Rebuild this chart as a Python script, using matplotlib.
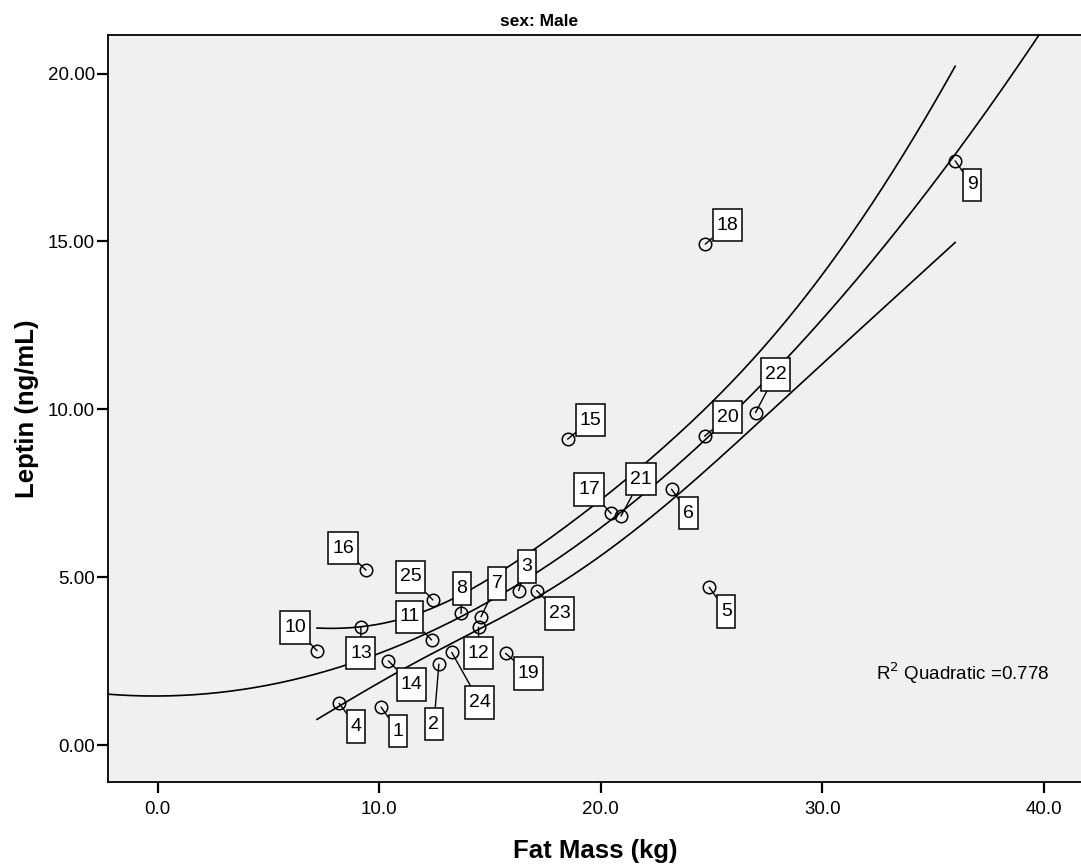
import numpy as np
import matplotlib
matplotlib.use("Agg")
import matplotlib.pyplot as plt
from matplotlib.path import Path

plt.rcParams['font.family'] = ['Liberation Sans', 'DejaVu Sans']

# case number, fat mass (kg), leptin (ng/mL)
case_id = [1, 2, 3, 4, 5, 6, 7, 8, 9, 10, 11, 12, 13,
           14, 15, 16, 17, 18, 19, 20, 21, 22, 23, 24, 25]
fat_mass = [10.08, 12.69, 16.29, 8.19, 24.89, 23.19, 14.59, 13.69, 35.99, 7.19, 12.36, 14.48, 9.17,
            10.41, 18.50, 9.40, 20.46, 24.71, 15.70, 24.68, 20.91, 26.98, 17.10, 13.27, 12.42]
leptin = [1.13, 2.41, 4.60, 1.24, 4.70, 7.62, 3.82, 3.92, 17.40, 2.81, 3.13, 3.51, 3.51,
          2.51, 9.11, 5.21, 6.90, 14.92, 2.73, 9.20, 6.82, 9.90, 4.60, 2.76, 4.32]
# where each case label sits relative to its point (pixels)
label_dx = [17, -5, 8, 17, 17, 17, 16, 1, 17, -22, -22, 0, 0,
            23, 23, -23, -22, 22, 23, 23, 20, 20, 23, 28, -22]
label_dy = [-24, -60, 24, -23, -24, -24, 33, 25, -24, 23, 23, -26, -26,
            -24, 19, 22, 24, 19, -20, 19, 37, 38, -23, -50, 23]

r2_text = "R$^2$ Quadratic =0.778"
band_t = 1.45  # multiplier on the standard error of the fitted mean

x = np.array(fat_mass)
y = np.array(leptin)

# quadratic fit and band around the fitted mean
coef = np.polyfit(x, y, 2)
X = np.vstack([np.ones_like(x), x, x ** 2]).T
resid = y - X @ coef[::-1]
s2 = resid @ resid / (len(x) - 3)
XtX_inv = np.linalg.inv(X.T @ X)

xx_full = np.linspace(-2.3, 42, 400)
yy_full = np.polyval(coef, xx_full)
xx = np.linspace(x.min(), x.max(), 300)
Xg = np.vstack([np.ones_like(xx), xx, xx ** 2]).T
se = np.sqrt(np.einsum('ij,jk,ik->i', Xg, XtX_inv, Xg) * s2)
yy = np.polyval(coef, xx)


def case_box(x0, y0, width, height, mutation_size):
    # plain rectangle, taller than it is wide around short numbers
    padx = 0.19 * mutation_size
    pady = 0.40 * mutation_size
    x0, y0 = x0 - padx, y0 - pady
    x1, y1 = x0 + width + 2 * padx, y0 + height + 2 * pady
    return Path([(x0, y0), (x1, y0), (x1, y1), (x0, y1), (x0, y0)], closed=True)


fig = plt.figure(figsize=(10.81, 8.68), dpi=100)
ax = fig.add_axes([108 / 1081, 86 / 868, 975 / 1081, 747 / 868])
ax.set_facecolor('#f0f0f0')

ax.plot(xx_full, yy_full, color='black', lw=1.2)
ax.plot(xx, yy + band_t * se, color='black', lw=1.2)
ax.plot(xx, yy - band_t * se, color='black', lw=1.2)

ax.plot(x, y, 'o', ms=9, mfc='none', mec='black', mew=1.1, zorder=4)

for cid, px, py, dx, dy in zip(case_id, fat_mass, leptin, label_dx, label_dy):
    ax.annotate(str(cid), xy=(px, py), xytext=(dx, dy), textcoords='offset pixels',
                ha='center', va='center', fontsize=14,
                bbox=dict(boxstyle=case_box, fc='white', ec='black', lw=1.1),
                arrowprops=dict(arrowstyle='-', color='black', lw=1.0,
                                shrinkA=0, shrinkB=0),
                zorder=5)

fig.text(876 / 1081, 1 - 673 / 868, r2_text, fontsize=13.5, va='center', ha='left')

ax.set_xlim(-2.243, 41.76)
ax.set_ylim(-1.102, 21.15)
ax.set_xticks([0, 10, 20, 30, 40])
ax.set_xticklabels(['0.0', '10.0', '20.0', '30.0', '40.0'])
ax.set_yticks([0, 5, 10, 15, 20])
ax.set_yticklabels(['0.00', '5.00', '10.00', '15.00', '20.00'])
ax.tick_params(direction='out', length=8, width=1.6, labelsize=13.5, color='black')
ax.tick_params(axis='x', pad=5.5)
ax.tick_params(axis='y', pad=1.5)
for side in ['left', 'bottom', 'top']:
    ax.spines[side].set_linewidth(1.3)
ax.spines['right'].set_visible(False)

ax.set_xlabel('Fat Mass (kg)', fontsize=18.5, fontweight='bold', labelpad=15)
ax.set_ylabel('Leptin (ng/mL)', fontsize=18.5, fontweight='bold', labelpad=6)

fig.text(539 / 1081, 1 - 21 / 868, 'sex: Male', fontsize=12.5, fontweight='bold',
         ha='center', va='center')

fig.savefig('out.png', dpi=100)
